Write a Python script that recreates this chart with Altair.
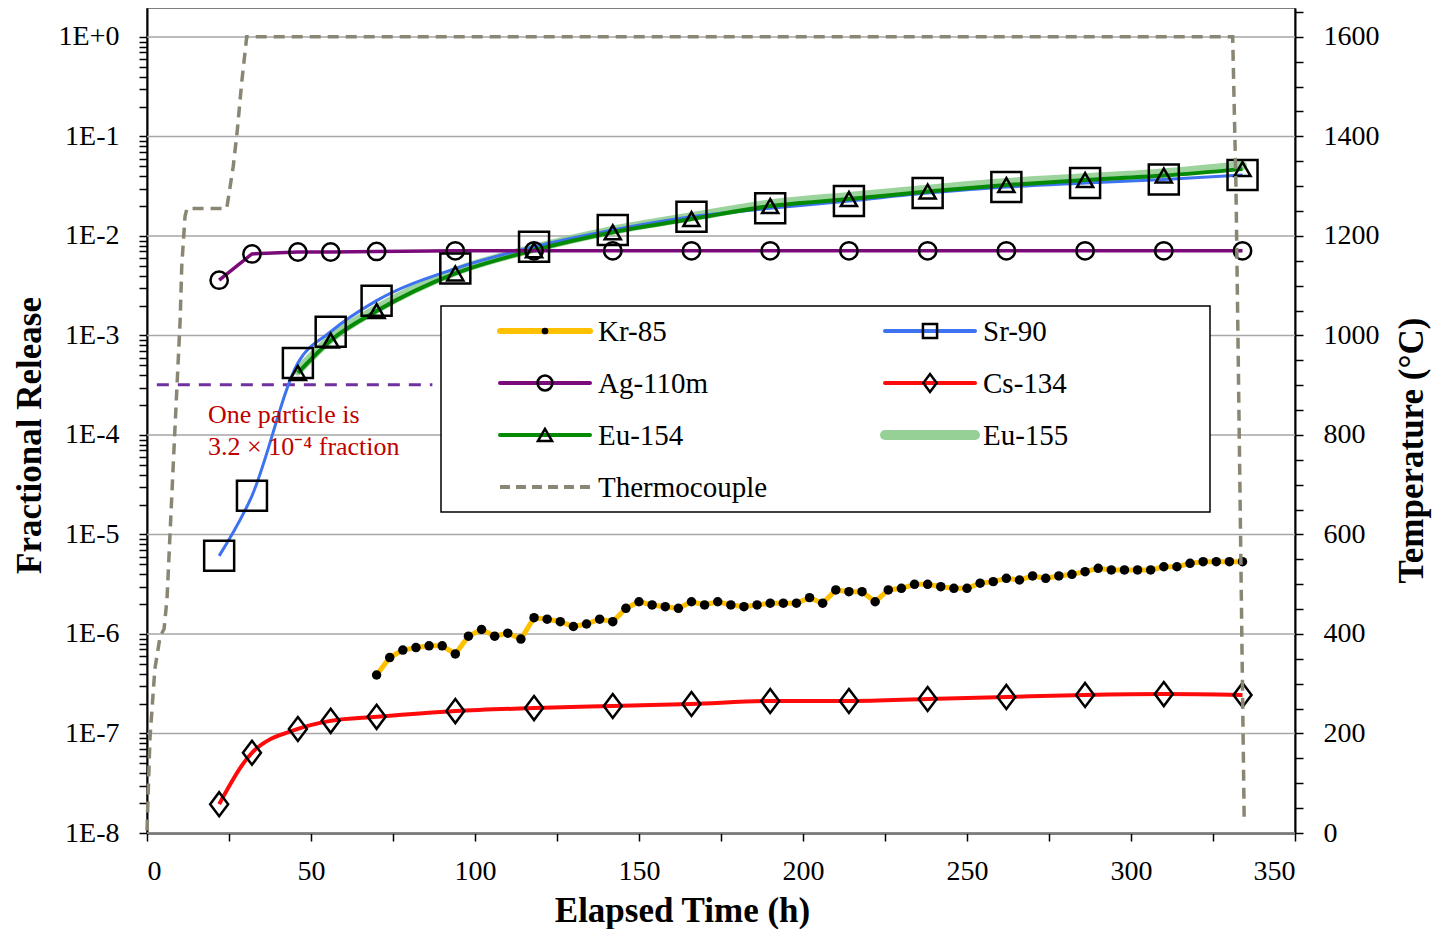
import altair as alt
import pandas as pd

# ---------------- data ----------------
t_main = [22, 32, 46, 56, 70, 94, 118, 142, 166, 190, 214, 238, 262, 286, 310, 334]

ag110m = [0.0036, 0.0066, 0.0069, 0.0069, 0.0070, 0.0071, 0.0071, 0.0071,
          0.0071, 0.0071, 0.0071, 0.0071, 0.0071, 0.0071, 0.0071, 0.0071]

sr90 = [6.1e-6, 2.45e-5, 5.3e-4, 1.09e-3, 2.24e-3, 4.7e-3, 7.8e-3, 1.15e-2,
        1.56e-2, 1.9e-2, 2.25e-2, 2.7e-2, 3.1e-2, 3.4e-2, 3.7e-2, 4.1e-2]

cs134 = [1.95e-8, 6.4e-8, 1.11e-7, 1.34e-7, 1.47e-7, 1.68e-7, 1.80e-7, 1.89e-7,
         1.98e-7, 2.12e-7, 2.12e-7, 2.22e-7, 2.33e-7, 2.44e-7, 2.49e-7, 2.44e-7]

t_eu = [46, 56, 70, 94, 118, 142, 166, 190, 214, 238, 262, 286, 310, 334]
eu154 = [4.2e-4, 8.9e-4, 1.76e-3, 4.2e-3, 7.2e-3, 1.09e-2, 1.48e-2,
         2.0e-2, 2.35e-2, 2.8e-2, 3.25e-2, 3.65e-2, 4.05e-2, 4.7e-2]
eu155 = [4.4e-4, 9.3e-4, 1.85e-3, 4.4e-3, 7.5e-3, 1.14e-2, 1.56e-2,
         2.1e-2, 2.5e-2, 2.95e-2, 3.45e-2, 3.85e-2, 4.3e-2, 5.1e-2]

t_kr = [70, 74, 78, 82, 86, 90, 94, 98, 102, 106, 110, 114, 118, 122, 126, 130,
        134, 138, 142, 146, 150, 154, 158, 162, 166, 170, 174, 178, 182, 186,
        190, 194, 198, 202, 206, 210, 214, 218, 222, 226, 230, 234, 238, 242,
        246, 250, 254, 258, 262, 266, 270, 274, 278, 282, 286, 290, 294, 298,
        302, 306, 310, 314, 318, 322, 326, 330, 334]
kr85 = [3.87e-7, 5.8e-7, 6.9e-7, 7.3e-7, 7.6e-7, 7.6e-7, 6.3e-7, 9.5e-7,
        1.11e-6, 9.5e-7, 1.02e-6, 8.9e-7, 1.46e-6, 1.41e-6, 1.33e-6, 1.19e-6,
        1.26e-6, 1.41e-6, 1.33e-6, 1.81e-6, 2.11e-6, 1.96e-6, 1.88e-6, 1.81e-6,
        2.11e-6, 1.96e-6, 2.11e-6, 1.96e-6, 1.88e-6, 1.96e-6, 2.04e-6, 2.04e-6,
        2.04e-6, 2.32e-6, 2.04e-6, 2.77e-6, 2.66e-6, 2.66e-6, 2.11e-6, 2.77e-6,
        2.88e-6, 3.16e-6, 3.16e-6, 2.99e-6, 2.88e-6, 2.88e-6, 3.24e-6, 3.36e-6,
        3.63e-6, 3.49e-6, 3.83e-6, 3.63e-6, 3.83e-6, 3.98e-6, 4.23e-6, 4.57e-6,
        4.4e-6, 4.4e-6, 4.4e-6, 4.4e-6, 4.74e-6, 4.74e-6, 5.13e-6, 5.33e-6,
        5.33e-6, 5.33e-6, 5.33e-6]

t_tc = [0, 0.9, 2.4, 4.0, 5.2, 6.1, 8.0, 10.1, 10.6, 11.6, 12.2, 24.3, 26.3,
        27.5, 28.9, 30.4, 331.0, 332.0, 333.2, 334.5]
temp_tc = [5, 190, 330, 395, 410, 470, 740, 1030, 1140, 1240, 1255, 1255, 1340,
           1410, 1510, 1600, 1600, 1300, 700, 30]

particle_t = [3, 87]
particle_frac = [3.2e-4, 3.2e-4]

decades = [1e-8, 1e-7, 1e-6, 1e-5, 1e-4, 1e-3, 1e-2, 1e-1, 1e0]
x_tick_values = [0, 25, 50, 75, 100, 125, 150, 175, 200, 225, 250, 275, 300, 325, 350]
y_tick_values = [m * 10.0 ** k for k in range(-8, 0) for m in range(1, 10)] + [1.0]
temp_tick_values = list(range(0, 1651, 50))

# ---------------- styling ----------------
FONT = "Liberation Serif"
W, H = 1148, 825
Y_MAX = 1.956
T_MAX = 1658

x_axis = alt.Axis(values=x_tick_values,
                  labelExpr="datum.value % 50 == 0 ? datum.value : ''",
                  title="Elapsed Time (h)", grid=False, tickSize=8,
                  labelPadding=16, titleX=535, titleY=77, titleAlign="center",
                  titleBaseline="middle", titleAnchor="start")
left_axis = alt.Axis(values=y_tick_values,
                     labelExpr="abs(log(datum.value)/LN10 - round(log(datum.value)/LN10)) < 0.001 ? "
                               "((round(log(datum.value)/LN10) >= 0 ? '1E+' : '1E') + round(log(datum.value)/LN10)) : ''",
                     title="Fractional Release", grid=False, tickSize=8,
                     labelPadding=20, titleX=-118, titleY=427, titleAngle=270,
                     titleAlign="center", titleBaseline="middle")
right_axis = alt.Axis(values=temp_tick_values, orient="right",
                      labelExpr="datum.value % 200 == 0 ? datum.value : ''",
                      title="Temperature (°C)", grid=False, tickSize=8,
                      labelPadding=20, titleX=116, titleY=442, titleAngle=270,
                      titleAlign="center", titleBaseline="middle")


def X():
    return alt.X("t:Q", scale=alt.Scale(domain=[0, 350], nice=False), axis=x_axis)


def YL():
    return alt.Y("v:Q", scale=alt.Scale(type="log", domain=[1e-8, Y_MAX], nice=False),
                 axis=left_axis)


def df(t, v):
    return pd.DataFrame({"t": t, "v": v})


grid = alt.Chart(pd.DataFrame({"v": decades})).mark_rule(
    color="#A6A6A6", strokeWidth=1.5).encode(y=YL())

eu155_line = alt.Chart(df(t_eu, eu155)).mark_line(
    color="#8CCB8C", strokeWidth=9, opacity=0.85, interpolate="monotone",
    strokeCap="round").encode(x=X(), y=YL())
sr_line = alt.Chart(df(t_main, sr90)).mark_line(
    color="#3D72F0", strokeWidth=3, interpolate="monotone").encode(x=X(), y=YL())
eu154_line = alt.Chart(df(t_eu, eu154)).mark_line(
    color="#058A05", strokeWidth=4, interpolate="monotone").encode(x=X(), y=YL())
ag_line = alt.Chart(df(t_main, ag110m)).mark_line(
    color="#7A0A7A", strokeWidth=3.5).encode(x=X(), y=YL())
cs_line = alt.Chart(df(t_main, cs134)).mark_line(
    color="#FF0A0A", strokeWidth=4, interpolate="monotone").encode(x=X(), y=YL())
kr_line = alt.Chart(df(t_kr, kr85)).mark_line(
    color="#FFC000", strokeWidth=5).encode(x=X(), y=YL())

sr_pts = alt.Chart(df(t_main, sr90)).mark_point(
    shape="square", size=900, color="black", strokeWidth=2.5, filled=False, opacity=1
).encode(x=X(), y=YL())
eu_pts = alt.Chart(df(t_eu, eu154)).mark_point(
    shape="triangle-up", size=260, color="black", strokeWidth=2.5, filled=False, opacity=1
).encode(x=X(), y=YL())
ag_pts = alt.Chart(df(t_main, ag110m)).mark_point(
    shape="circle", size=300, color="black", strokeWidth=2.5, filled=False, opacity=1
).encode(x=X(), y=YL())
DIAMOND = "M0,-1.2L0.9,0L0,1.2L-0.9,0Z"
cs_pts = alt.Chart(df(t_main, cs134)).mark_point(
    shape=DIAMOND, size=400, color="black", strokeWidth=2.5, filled=False, opacity=1
).encode(x=X(), y=YL())
kr_pts = alt.Chart(df(t_kr, kr85)).mark_point(
    shape="circle", size=90, color="black", filled=True, opacity=1
).encode(x=X(), y=YL())

particle_line = alt.Chart(df(particle_t, particle_frac)).mark_line(
    color="#7030A0", strokeWidth=3, strokeDash=[12, 9]).encode(x=X(), y=YL())

left = alt.layer(grid, particle_line, eu155_line, sr_line, eu154_line, ag_line,
                 cs_line, kr_line, kr_pts, sr_pts, eu_pts, ag_pts, cs_pts)

tc_line = alt.Chart(pd.DataFrame({"t": t_tc, "T": temp_tc})).mark_line(
    color="#8A8674", strokeWidth=3.5, strokeDash=[11, 7]).encode(
    x=X(),
    y=alt.Y("T:Q", scale=alt.Scale(domain=[0, T_MAX], nice=False), axis=right_axis))

# ---------------- annotation & legend (pixel placed) ----------------
one = pd.DataFrame({"k": [0]})
ann_color = "#C00000"
ann1 = alt.Chart(one).mark_text(font=FONT, fontSize=26, color=ann_color, align="left",
                                baseline="middle").encode(
    x=alt.value(61), y=alt.value(407), text=alt.value("One  particle is"))
ann2 = alt.Chart(one).mark_text(font=FONT, fontSize=26, color=ann_color, align="left",
                                baseline="middle").encode(
    x=alt.value(61), y=alt.value(439), text=alt.value("3.2 × 10⁻⁴ fraction"))

box = alt.Chart(one).mark_rect(fill="white", stroke="black", strokeWidth=1.5).encode(
    x=alt.value(294), x2=alt.value(1063), y=alt.value(298), y2=alt.value(504))

rows = [323, 375, 427, 479]
c1 = (353, 443, 398, 451)
c2 = (738, 828, 783, 836)


def leg_line(col, row, color, width, dash=None, cap="butt", opacity=1.0):
    kw = dict(color=color, strokeWidth=width, strokeCap=cap, opacity=opacity)
    if dash:
        kw["strokeDash"] = dash
    return alt.Chart(one).mark_rule(**kw).encode(
        x=alt.value(col[0]), x2=alt.value(col[1]), y=alt.value(rows[row]))


def leg_pt(col, row, shape, size, filled=False):
    return alt.Chart(one).mark_point(shape=shape, size=size, color="black",
                                     strokeWidth=2.5, filled=filled, opacity=1).encode(
        x=alt.value(col[2]), y=alt.value(rows[row]))


def leg_txt(col, row, label):
    return alt.Chart(one).mark_text(font=FONT, fontSize=29, color="black", align="left",
                                    baseline="middle").encode(
        x=alt.value(col[3]), y=alt.value(rows[row] + 1), text=alt.value(label))


legend = [
    box,
    leg_line(c1, 0, "#FFC000", 6, cap="round"), leg_pt(c1, 0, "circle", 45, True), leg_txt(c1, 0, "Kr-85"),
    leg_line(c2, 0, "#3D72F0", 4, cap="round"), leg_pt(c2, 0, "square", 200), leg_txt(c2, 0, "Sr-90"),
    leg_line(c1, 1, "#7A0A7A", 4, cap="round"), leg_pt(c1, 1, "circle", 220), leg_txt(c1, 1, "Ag-110m"),
    leg_line(c2, 1, "#FF0A0A", 4, cap="round"), leg_pt(c2, 1, DIAMOND, 220), leg_txt(c2, 1, "Cs-134"),
    leg_line(c1, 2, "#058A05", 4, cap="round"), leg_pt(c1, 2, "triangle-up", 200), leg_txt(c1, 2, "Eu-154"),
    leg_line(c2, 2, "#8CCB8C", 10, cap="round", opacity=0.9), leg_txt(c2, 2, "Eu-155"),
    leg_line(c1, 3, "#8A8674", 4, dash=[10, 6]), leg_txt(c1, 3, "Thermocouple"),
]

chart = alt.layer(left, tc_line, ann1, ann2, *legend).resolve_scale(
    y="independent"
).properties(
    width=W, height=H,
    padding={"left": 139, "top": 0, "right": 138, "bottom": 96},
    autosize=alt.AutoSizeParams(type="none"),
).configure_view(
    stroke="#555555", strokeWidth=1.5
).configure_axis(
    labelFont=FONT, labelFontSize=28, labelColor="black",
    titleFont=FONT, titleFontSize=35, titleFontWeight="bold", titleColor="black",
    domainColor="black", domainWidth=2, tickColor="black", tickWidth=1.5,
    labelOverlap=False,
)

chart.save("out.html", embed_options={"renderer": "svg", "actions": False})
